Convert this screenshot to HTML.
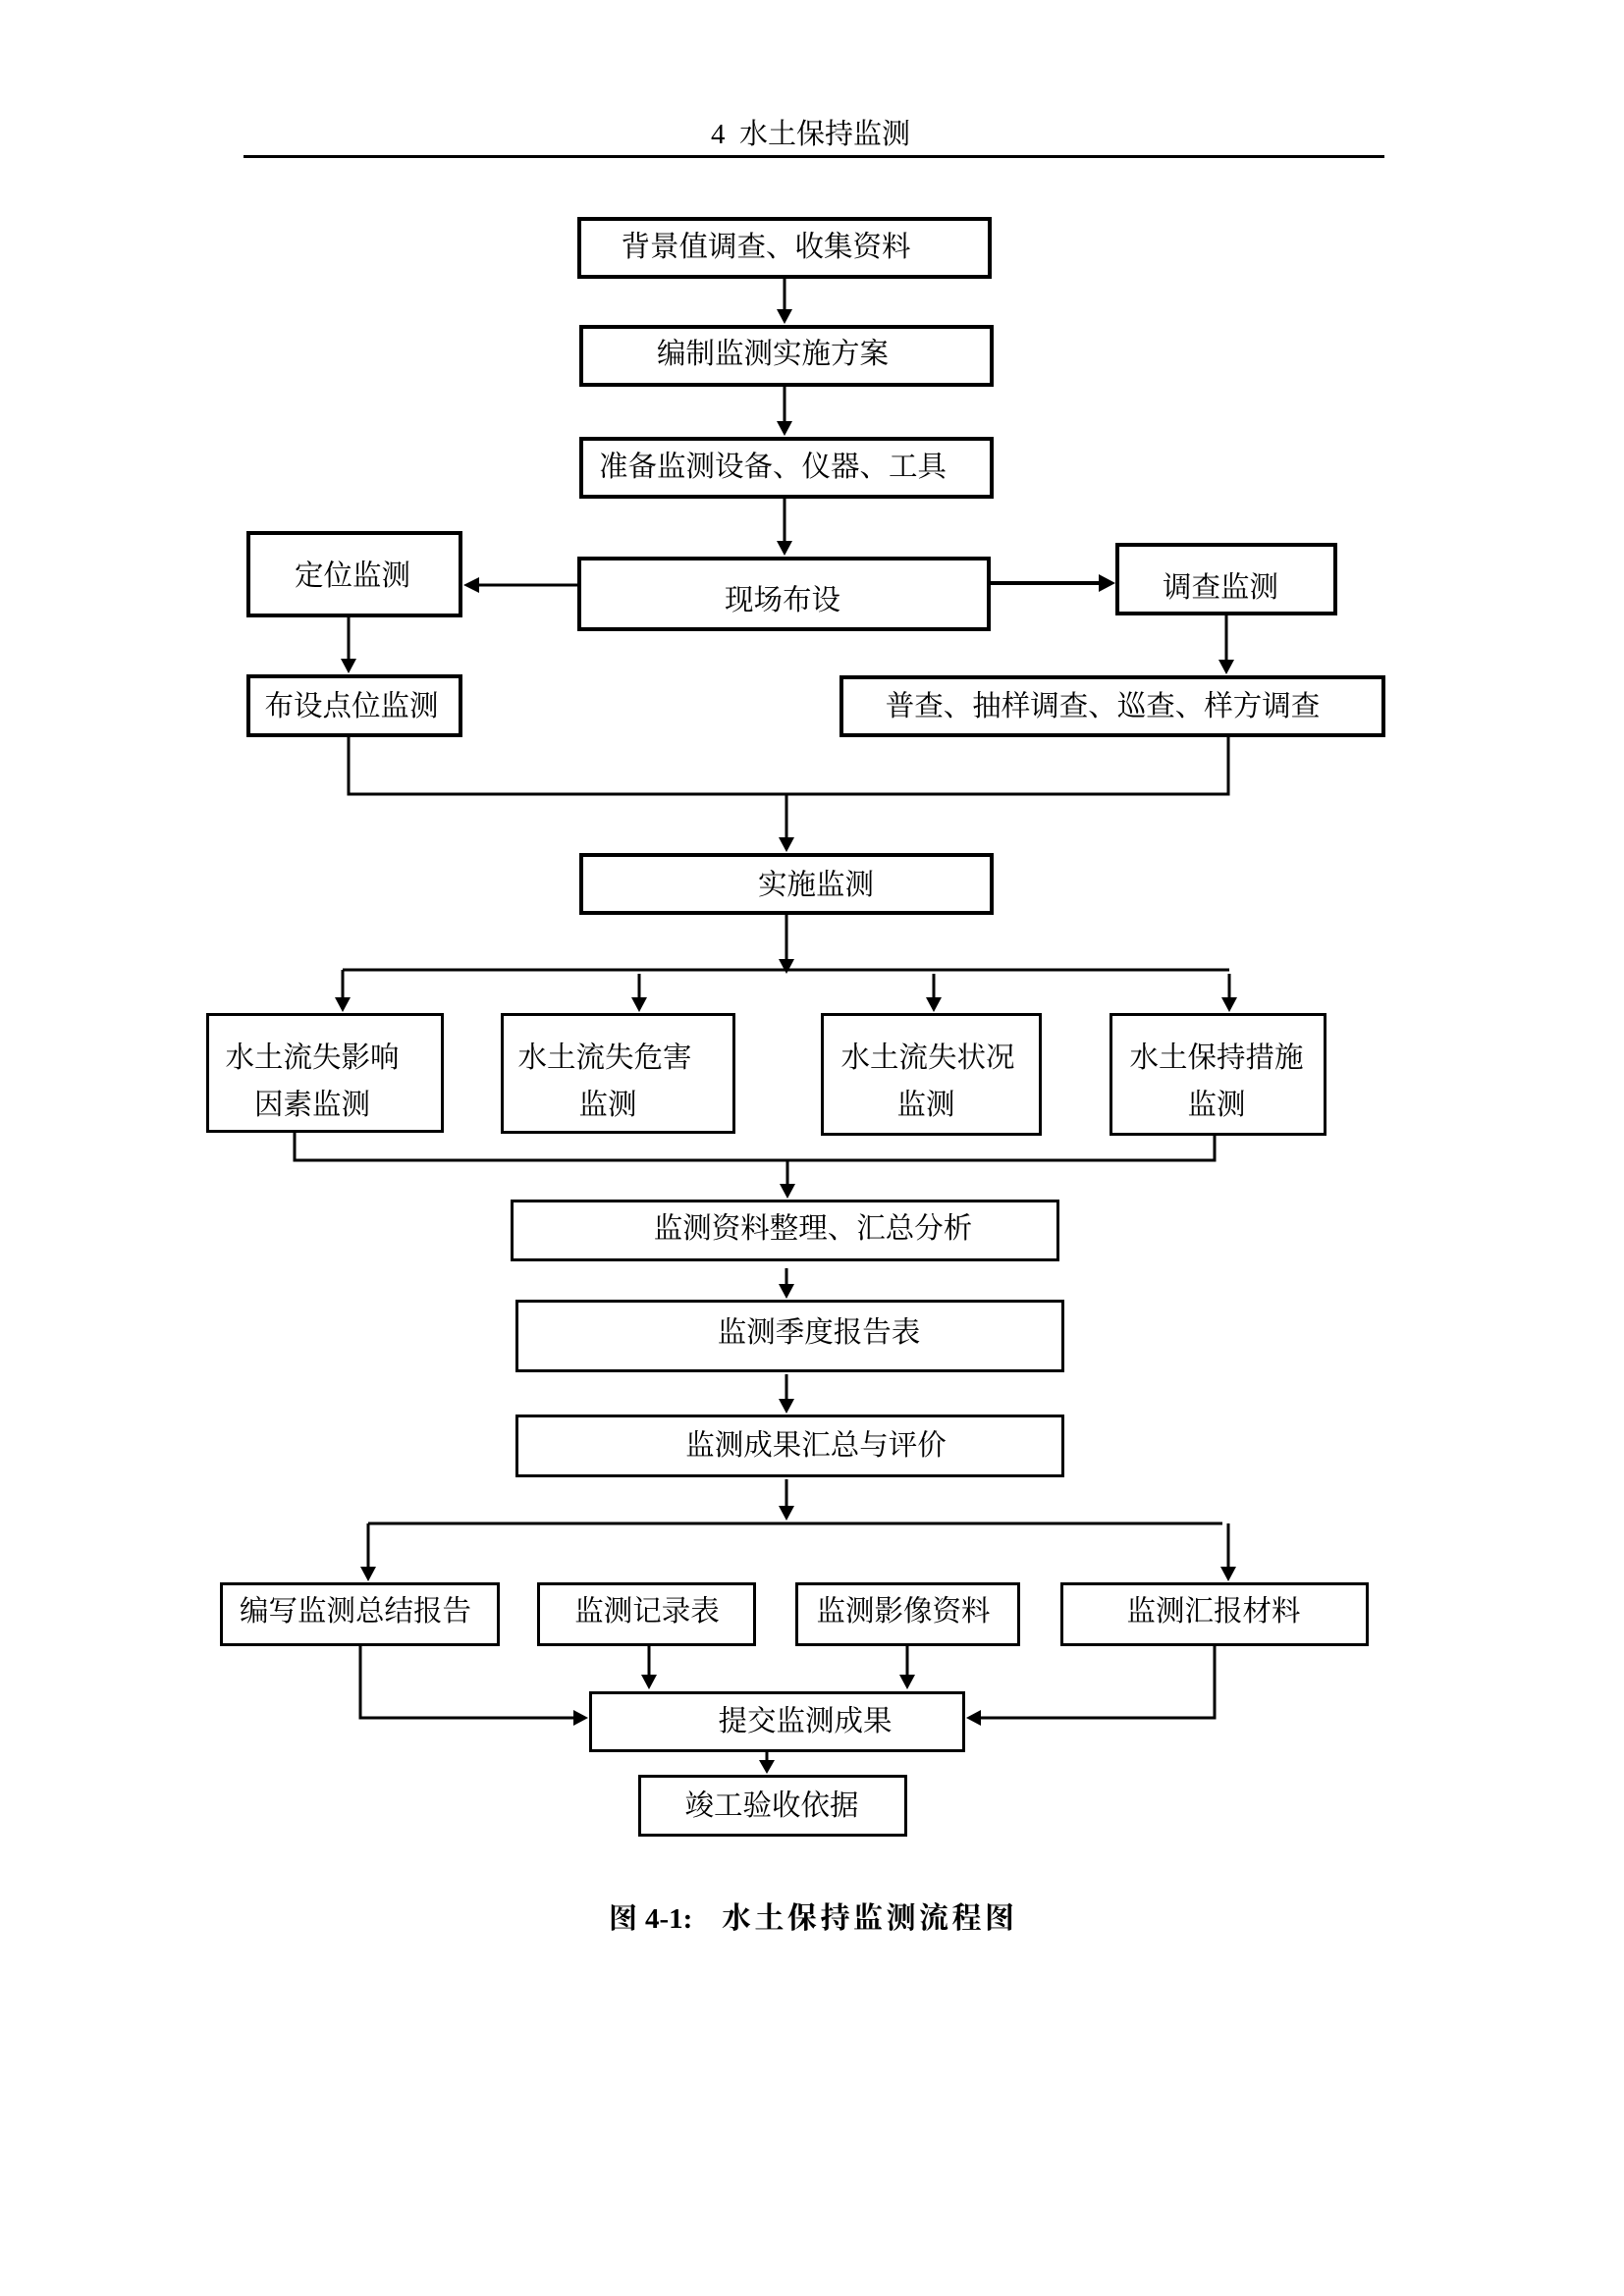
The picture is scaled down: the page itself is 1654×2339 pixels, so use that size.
<!DOCTYPE html>
<html>
<head>
<meta charset="utf-8">
<style>
  html,body{margin:0;padding:0;background:#fff;}
  #page{position:relative;width:1654px;height:2339px;background:#fff;overflow:hidden;}
  .b{position:absolute;box-sizing:border-box;border:4px solid #000;background:transparent;}
  .b3{border-width:3px;}
  .t{position:absolute;width:800px;text-align:center;white-space:nowrap;
     font-family:"Liberation Serif","Noto Serif CJK SC",serif;font-size:29.5px;line-height:30px;color:#000;}
  .s{position:absolute;white-space:nowrap;font-family:"Liberation Serif","Noto Serif CJK SC",serif;color:#000;line-height:30px;}
</style>
</head>
<body>
<div id="page">

<!-- header -->
<div class="s" style="left:724px;top:122px;font-size:29px;">4</div>
<div class="s" style="left:753px;top:122px;font-size:29px;">水土保持监测</div>

<svg width="1654" height="2339" style="position:absolute;left:0;top:0;">
  <g stroke="#000" stroke-width="3" fill="none">
    <line x1="248" y1="159.5" x2="1410" y2="159.5"/>
    <line x1="799" y1="284" x2="799" y2="318"/>
    <line x1="799" y1="394" x2="799" y2="432"/>
    <line x1="799" y1="508" x2="799" y2="554"/>
    <line x1="588" y1="596" x2="485" y2="596"/>
    <line x1="1008" y1="594" x2="1122" y2="594" stroke-width="4"/>
    <line x1="355" y1="629" x2="355" y2="674"/>
    <line x1="1249" y1="627" x2="1249" y2="675"/>
    <polyline points="355,751 355,809 1251,809 1251,751"/>
    <line x1="801" y1="809" x2="801" y2="856"/>
    <line x1="801" y1="932" x2="801" y2="980"/>
    <line x1="349" y1="988" x2="1252" y2="988"/>
    <line x1="349" y1="988" x2="349" y2="1019"/>
    <line x1="651" y1="992" x2="651" y2="1019"/>
    <line x1="951" y1="992" x2="951" y2="1019"/>
    <line x1="1252" y1="992" x2="1252" y2="1019"/>
    <polyline points="300,1154 300,1182 1237,1182 1237,1157"/>
    <line x1="802" y1="1182" x2="802" y2="1209"/>
    <line x1="801" y1="1292" x2="801" y2="1311"/>
    <line x1="801" y1="1400" x2="801" y2="1428"/>
    <line x1="801" y1="1507" x2="801" y2="1537"/>
    <line x1="375" y1="1552" x2="1245" y2="1552"/>
    <line x1="375" y1="1552" x2="375" y2="1599"/>
    <line x1="1251" y1="1552" x2="1251" y2="1599"/>
    <line x1="661" y1="1677" x2="661" y2="1709"/>
    <line x1="924" y1="1677" x2="924" y2="1709"/>
    <polyline points="367,1677 367,1750 587,1750"/>
    <polyline points="1237,1677 1237,1750 996,1750"/>
    <line x1="781" y1="1785" x2="781" y2="1796"/>
  </g>
  <g fill="#000">
    <polygon points="791,315 807,315 799,330"/>
    <polygon points="791,429 807,429 799,444"/>
    <polygon points="791,551 807,551 799,566"/>
    <polygon points="488,588 488,604 472,596"/>
    <polygon points="1119,585 1119,603 1136,594"/>
    <polygon points="347,671 363,671 355,686"/>
    <polygon points="1241,672 1257,672 1249,687"/>
    <polygon points="793,853 809,853 801,868"/>
    <polygon points="793,977 809,977 801,992"/>
    <polygon points="341,1016 357,1016 349,1031"/>
    <polygon points="643,1016 659,1016 651,1031"/>
    <polygon points="943,1016 959,1016 951,1031"/>
    <polygon points="1244,1016 1260,1016 1252,1031"/>
    <polygon points="794,1206 810,1206 802,1221"/>
    <polygon points="793,1308 809,1308 801,1323"/>
    <polygon points="793,1425 809,1425 801,1440"/>
    <polygon points="793,1534 809,1534 801,1549"/>
    <polygon points="367,1596 383,1596 375,1611"/>
    <polygon points="1243,1596 1259,1596 1251,1611"/>
    <polygon points="653,1706 669,1706 661,1721"/>
    <polygon points="916,1706 932,1706 924,1721"/>
    <polygon points="584,1742 584,1758 599,1750"/>
    <polygon points="999,1742 999,1758 984,1750"/>
    <polygon points="773,1793 789,1793 781,1807"/>
  </g>
</svg>

<!-- boxes -->
<div class="b" style="left:588px;top:221px;width:422px;height:63px;"></div>
<div class="b" style="left:590px;top:331px;width:422px;height:63px;"></div>
<div class="b" style="left:590px;top:445px;width:422px;height:63px;"></div>
<div class="b" style="left:588px;top:567px;width:421px;height:76px;"></div>
<div class="b" style="left:251px;top:541px;width:220px;height:88px;"></div>
<div class="b" style="left:1136px;top:553px;width:226px;height:74px;"></div>
<div class="b" style="left:251px;top:687px;width:220px;height:64px;"></div>
<div class="b" style="left:855px;top:688px;width:556px;height:63px;"></div>
<div class="b" style="left:590px;top:869px;width:422px;height:63px;"></div>

<div class="b b3" style="left:210px;top:1032px;width:242px;height:122px;"></div>
<div class="b b3" style="left:510px;top:1032px;width:239px;height:123px;"></div>
<div class="b b3" style="left:836px;top:1032px;width:225px;height:125px;"></div>
<div class="b b3" style="left:1130px;top:1032px;width:221px;height:125px;"></div>

<div class="b" style="left:520px;top:1222px;width:559px;height:63px;border-width:3.5px;"></div>
<div class="b" style="left:525px;top:1324px;width:559px;height:74px;border-width:3.5px;"></div>
<div class="b" style="left:525px;top:1441px;width:559px;height:64px;border-width:3.5px;"></div>

<div class="b b3" style="left:224px;top:1612px;width:285px;height:65px;"></div>
<div class="b b3" style="left:547px;top:1612px;width:223px;height:65px;"></div>
<div class="b b3" style="left:810px;top:1612px;width:229px;height:65px;"></div>
<div class="b b3" style="left:1080px;top:1612px;width:314px;height:65px;"></div>
<div class="b b3" style="left:600px;top:1723px;width:383px;height:62px;"></div>
<div class="b b3" style="left:650px;top:1808px;width:274px;height:63px;"></div>

<!-- texts (left = cx-400, top = cy-15) -->
<div class="t" style="left:380px;top:237px;">背景值调查、收集资料</div>
<div class="t" style="left:387px;top:346px;">编制监测实施方案</div>
<div class="t" style="left:387px;top:461px;">准备监测设备、仪器、工具</div>
<div class="t" style="left:397px;top:597px;">现场布设</div>
<div class="t" style="left:-41px;top:572px;">定位监测</div>
<div class="t" style="left:843px;top:584px;">调查监测</div>
<div class="t" style="left:-42px;top:705px;">布设点位监测</div>
<div class="t" style="left:723px;top:705px;">普查、抽样调查、巡查、样方调查</div>
<div class="t" style="left:431px;top:887px;">实施监测</div>

<div class="t" style="left:-82px;top:1063px;">水土流失影响</div>
<div class="t" style="left:-82px;top:1111px;">因素监测</div>
<div class="t" style="left:216px;top:1063px;">水土流失危害</div>
<div class="t" style="left:219px;top:1111px;">监测</div>
<div class="t" style="left:545px;top:1063px;">水土流失状况</div>
<div class="t" style="left:543px;top:1111px;">监测</div>
<div class="t" style="left:839px;top:1063px;">水土保持措施</div>
<div class="t" style="left:839px;top:1111px;">监测</div>

<div class="t" style="left:428px;top:1237px;">监测资料整理、汇总分析</div>
<div class="t" style="left:434px;top:1343px;">监测季度报告表</div>
<div class="t" style="left:431px;top:1458px;">监测成果汇总与评价</div>

<div class="t" style="left:-38px;top:1627px;">编写监测总结报告</div>
<div class="t" style="left:259px;top:1627px;">监测记录表</div>
<div class="t" style="left:520px;top:1627px;">监测影像资料</div>
<div class="t" style="left:836px;top:1627px;">监测汇报材料</div>
<div class="t" style="left:420px;top:1739px;">提交监测成果</div>
<div class="t" style="left:386px;top:1825px;">竣工验收依据</div>

<!-- caption -->
<div class="s" style="left:620px;top:1940px;font-size:29px;font-weight:bold;">图</div>
<div class="s" style="left:657px;top:1940px;font-size:29px;font-weight:bold;">4-1:</div>
<div class="s" style="left:735px;top:1940px;font-size:30px;font-weight:bold;letter-spacing:3.5px;">水土保持监测流程图</div>

</div>
</body>
</html>
